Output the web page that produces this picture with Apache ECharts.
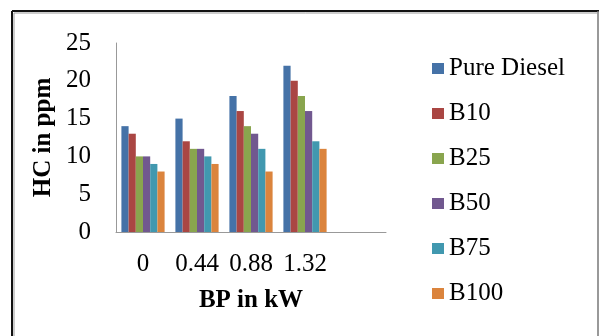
<!DOCTYPE html>
<html>
<head>
<meta charset="utf-8">
<script src="https://cdn.jsdelivr.net/npm/echarts@6/dist/echarts.min.js"></script>
<style>
  html, body { margin: 0; padding: 0; background: #fff; }
  #chart { width: 601px; height: 336px; }
</style>
</head>
<body>
<div id="chart"></div>
<script>
// Brake power (kW) categories; the trailing blank slot keeps the axis open on the right
const categories = ['0', '0.44', '0.88', '1.32', ''];
const seriesNames = ['Pure Diesel', 'B10', 'B25', 'B50', 'B75', 'B100'];
const pureDiesel = [14, 15, 18, 22];
const b10 = [13, 12, 16, 20];
const b25 = [10, 11, 14, 18];
const b50 = [10, 11, 13, 16];
const b75 = [9, 10, 11, 12];
const b100 = [8, 9, 8, 11];
const yTicks = { min: 0, max: 25, interval: 5 };

const palette = ['#4572A7', '#AA4643', '#89A54E', '#71588F', '#4198AF', '#DB843D'];
const values = [pureDiesel, b10, b25, b50, b75, b100];
const serif = '"Liberation Serif", "DejaVu Serif", serif';

const chart = echarts.init(document.getElementById('chart'), null, { renderer: 'canvas' });

chart.setOption({
  animation: false,
  color: palette,
  textStyle: { fontFamily: serif, color: '#000' },
  grid: { left: 116, right: 215, top: 43, bottom: 104, containLabel: false },
  graphic: [
    { type: 'line', shape: { x1: 12, y1: 11, x2: 599, y2: 11 }, style: { stroke: '#111', lineWidth: 2 } },
    { type: 'line', shape: { x1: 12, y1: 11, x2: 12, y2: 336 }, style: { stroke: '#111', lineWidth: 2 } },
    { type: 'line', shape: { x1: 14, y1: 13, x2: 597, y2: 13 }, style: { stroke: '#999', lineWidth: 1 } },
    { type: 'line', shape: { x1: 14, y1: 13, x2: 14, y2: 336 }, style: { stroke: '#999', lineWidth: 1 } },
    { type: 'line', shape: { x1: 598, y1: 11, x2: 598, y2: 336 }, style: { stroke: '#777', lineWidth: 1.5 } }
  ],
  legend: {
    orient: 'vertical',
    left: 427,
    top: 51,
    icon: 'rect',
    itemWidth: 12,
    itemHeight: 11,
    itemGap: 20,
    data: seriesNames,
    textStyle: { fontFamily: serif, fontSize: 25, lineHeight: 25, color: '#000' }
  },
  xAxis: {
    type: 'category',
    data: categories,
    name: 'BP in kW',
    nameLocation: 'middle',
    nameGap: 56,
    nameTextStyle: { fontFamily: serif, fontSize: 25, fontWeight: 'bold', color: '#000' },
    axisLine: { lineStyle: { color: '#999', width: 1 } },
    axisTick: { show: false },
    axisLabel: { interval: 0, hideOverlap: false, fontFamily: serif, fontSize: 25, color: '#000', margin: 20 },
    splitLine: { show: false }
  },
  yAxis: {
    type: 'value',
    min: yTicks.min,
    max: yTicks.max,
    interval: yTicks.interval,
    name: 'HC in ppm',
    nameLocation: 'middle',
    nameGap: 60,
    nameRotate: 90,
    nameTextStyle: { fontFamily: serif, fontSize: 25, fontWeight: 'bold', color: '#000' },
    axisLine: { show: true, lineStyle: { color: '#999', width: 1 } },
    axisTick: { show: false },
    axisLabel: { fontFamily: serif, fontSize: 25, color: '#000', margin: 25 },
    splitLine: { show: false }
  },
  series: seriesNames.map((name, i) => ({
    name: name,
    type: 'bar',
    data: values[i],
    barGap: '0%',
    barCategoryGap: '20%',
    itemStyle: { color: palette[i] }
  }))
});
</script>
</body>
</html>
